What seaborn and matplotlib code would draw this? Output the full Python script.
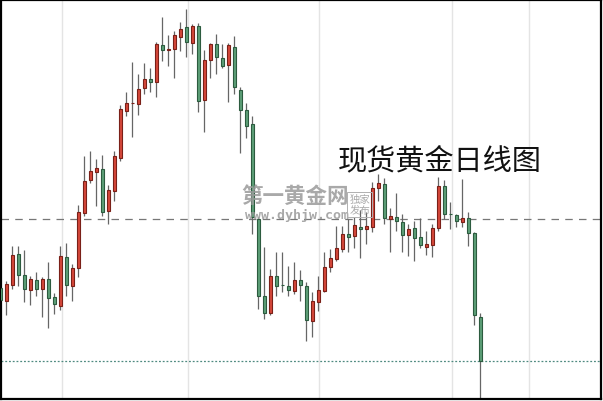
import numpy as np
import pandas as pd
import matplotlib
matplotlib.use("Agg")
import matplotlib.pyplot as plt
import seaborn as sns

# Daily OHLC (arbitrary price units)
opens = [111, 98, 114, 145, 124, 109, 119, 110, 120, 102, 93, 142, 113, 131, 186, 220, 228, 231, 188, 209,
         242, 289, 296.5, 296, 312, 321, 318, 355, 350, 351, 363, 373, 357, 374, 300, 340, 356, 342, 335, 353,
         310, 290, 276, 180, 103, 86, 123, 114.5, 113, 108, 119, 113, 78, 97, 108, 132, 140, 150, 165, 163,
         172, 170, 172, 212, 216, 180, 182, 177, 164, 171, 162, 152, 154, 171, 214, 185.5, 184, 177, 181, 166, 82]
highs = [113, 118, 153, 153, 149, 123, 127, 122, 137, 106, 153, 156, 135, 194, 244, 249, 241, 245, 215, 249,
         295, 308, 338, 326, 337, 332, 358, 383, 365, 369, 378, 391, 376, 377, 350, 357, 366, 356, 357, 364,
         313, 297, 284, 182, 152, 130, 147, 147, 133, 137, 129, 117, 107, 123, 147, 150, 173, 173, 180, 182,
         189, 187, 218, 226, 222, 191, 207, 185, 175, 178, 181, 168, 175, 223, 220, 197, 185, 221, 187, 167, 86]
lows = [97, 84, 110, 113, 97, 94, 103, 82, 71, 85, 89, 103, 98, 122, 183, 217, 193, 183, 175, 198,
        239, 284, 263, 285, 306, 308, 303, 339, 334, 322, 349, 343, 346, 288, 268, 322, 326, 332, 298, 306,
        247, 262, 165, 90, 80, 84, 103, 107, 103, 105, 98, 58, 62, 88, 107, 127, 138, 147, 147, 151,
        141, 155, 167, 198, 175, 147, 168, 147, 143, 138, 151, 144, 142, 168, 180, 170, 172, 172, 153, 74, -5]
closes = [99, 115, 144, 124, 110, 120, 110, 120, 101, 95, 143, 114, 131, 187, 219, 229, 232, 187, 210, 244,
          291, 297, 297, 311, 321, 318, 356, 350, 350.5, 365, 371, 358, 374, 299, 340, 356, 343, 334, 355, 313,
          290, 274, 182, 103, 86, 123, 113, 114, 109, 119, 114, 79, 98, 109, 132, 141, 151, 165, 162, 174,
          170, 173, 212, 217, 181, 183, 178, 164, 170, 161, 154, 155, 171, 214, 185, 185, 178, 181, 166, 84, 38]

# reference levels and vertical separators (candle index)
dash_level = 180
dot_level = 38
vgrid = [10.3, 31.2, 53.1, 75.2, 88.1]

title = "现货黄金日线图"

df = pd.DataFrame({"open": opens, "high": highs, "low": lows, "close": closes})
df["idx"] = np.arange(len(df))
df["up"] = df["close"] >= df["open"]

sns.set_style("white")
plt.rcParams["font.family"] = ["Noto Sans CJK SC", "DejaVu Sans"]

fig = plt.figure(figsize=(6.03, 4.02), dpi=100)
ax = fig.add_axes([1 / 603, 2 / 402, 600 / 603, 399 / 402])

for x in vgrid:
    ax.axvline(x, color="#e4e4e4", lw=1, zorder=0)
ax.axhline(dash_level, color="#777777", lw=0.9, ls=(0, (6, 5)), zorder=1)
ax.axhline(dot_level, color="#4f8a80", lw=0.9, ls=(0, (1.5, 1.5)), zorder=1)

# wicks
ax.vlines(df["idx"], df["low"], df["high"], color="#666666", lw=0.9, zorder=2)

# bodies
red_fill, red_edge = "#d6483a", "#7a2018"
green_fill, green_edge = "#5d9f78", "#2c5b3f"
body = (df["close"] - df["open"]).abs().clip(lower=0.6)
bottom = df[["open", "close"]].min(axis=1)
fills = np.where(df["up"], red_fill, green_fill)
edges = np.where(df["up"], red_edge, green_edge)
ax.bar(df["idx"], body, bottom=bottom, width=0.62, color=fills,
       edgecolor=edges, linewidth=0.8, zorder=3)

ax.set_xlim(0.1, 100.1)
ax.set_ylim(0, 400)
ax.set_xticks([])
ax.set_yticks([])
for s in ax.spines.values():
    s.set_visible(True)
    s.set_color("black")
    s.set_linewidth(1.6)

# watermark
ax.text(49.1, 204, "第一黄金网", fontsize=15.5, fontweight="bold", color="#9a9a9a",
        ha="center", va="center", alpha=0.85, zorder=4)
ax.text(49.4, 185, "www.dyhjw.com", fontsize=9.5, fontweight="bold", color="#9a9a9a",
        family="DejaVu Sans Mono", ha="center", va="center", alpha=0.85, zorder=4)
ax.text(59.9, 195, "独家\n发布", fontsize=7.5, color="#9a9a9a", ha="center", va="center",
        linespacing=1.1, alpha=0.85, zorder=4,
        bbox=dict(boxstyle="square,pad=0.2", fc="none", ec="#b0b0b0", lw=0.7))

ax.text(73.2, 239, title, fontsize=21, fontweight="light", color="#111111",
        ha="center", va="center", zorder=5)

fig.savefig("out.png", dpi=100)
